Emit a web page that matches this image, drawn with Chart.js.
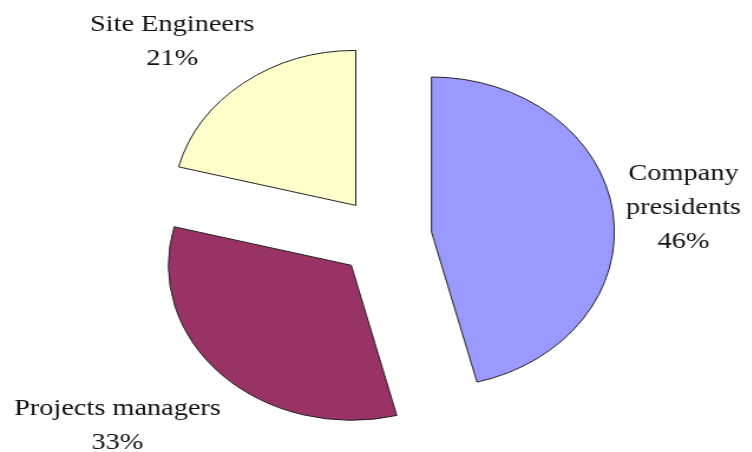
<!DOCTYPE html>
<html>
<head>
<meta charset="utf-8">
<script src="https://cdn.jsdelivr.net/npm/chart.js@4"></script>
<style>
    html, body { margin: 0; padding: 0; background: #fff; overflow: hidden; }
    #wrap { position: relative; width: 752px; height: 452px; }
    /* the pie is drawn on a narrower canvas and stretched sideways into an ellipse */
    #pie { position: absolute; left: 0; top: 0; width: 637px; height: 452px; transform: scaleX(1.18); transform-origin: 0 0; }
</style>
</head>
<body>
<div id="wrap"><canvas id="pie" width="637" height="452"></canvas></div>
<script>
const categories = [['Company', 'presidents'], ['Projects managers'], ['Site Engineers']];
const shares = [46, 33, 21];
const sliceColors = ['#9999FF', '#993366', '#FFFFCC'];

const EXPLODE = 40;      // how far every slice is pulled out from the centre
const RADIUS = 155;
const LINE_H = 34;
const LABEL_FONT = "24px 'Liberation Serif'";

// where each label block sits, measured from the slice tip: distance and a small turn (deg)
const labelPlacement = [
    { dist: 215, turn: 0.6 },
    { dist: 255, turn: 6 },
    { dist: 226, turn: -5.7 }
];

const explodeSlices = {
    id: 'explodeSlices',
    afterDatasetsUpdate: (chart) => {
        chart.getDatasetMeta(0).data.forEach(arc => {
            const mid = (arc.startAngle + arc.endAngle) / 2;
            arc.x += Math.cos(mid) * EXPLODE;
            arc.y += Math.sin(mid) * EXPLODE;
        });
    }
};

const sliceLabels = {
    id: 'sliceLabels',
    afterDatasetsDraw: (chart) => {
        const ctx = chart.ctx;
        const values = chart.data.datasets[0].data;
        ctx.save();
        ctx.font = LABEL_FONT;
        ctx.fillStyle = '#111';
        ctx.textAlign = 'center';
        ctx.textBaseline = 'middle';
        chart.getDatasetMeta(0).data.forEach((arc, i) => {
            const place = labelPlacement[i];
            const ang = (arc.startAngle + arc.endAngle) / 2 + place.turn * Math.PI / 180;
            const cx = arc.x + Math.cos(ang) * place.dist;
            const cy = arc.y + Math.sin(ang) * place.dist;
            const lines = [...chart.data.labels[i], values[i] + '%'];
            const top = cy - (lines.length - 1) * LINE_H / 2;
            lines.forEach((txt, k) => ctx.fillText(txt, cx, top + k * LINE_H));
        });
        ctx.restore();
    }
};

function drawPie() {
    new Chart(document.getElementById('pie'), {
        type: 'pie',
        data: {
            labels: categories,
            datasets: [{
                data: shares,
                backgroundColor: sliceColors,
                borderColor: '#222',
                borderWidth: 1,
                radius: RADIUS,
                clip: false
            }]
        },
        options: {
            responsive: false,
            devicePixelRatio: 1,
            animation: false,
            events: [],
            layout: { padding: { left: 15, right: 0, top: 22, bottom: 0 } },
            plugins: {
                legend: { display: false },
                tooltip: { enabled: false }
            }
        },
        plugins: [explodeSlices, sliceLabels]
    });
}

document.fonts.load(LABEL_FONT).then(drawPie, drawPie);
</script>
</body>
</html>
